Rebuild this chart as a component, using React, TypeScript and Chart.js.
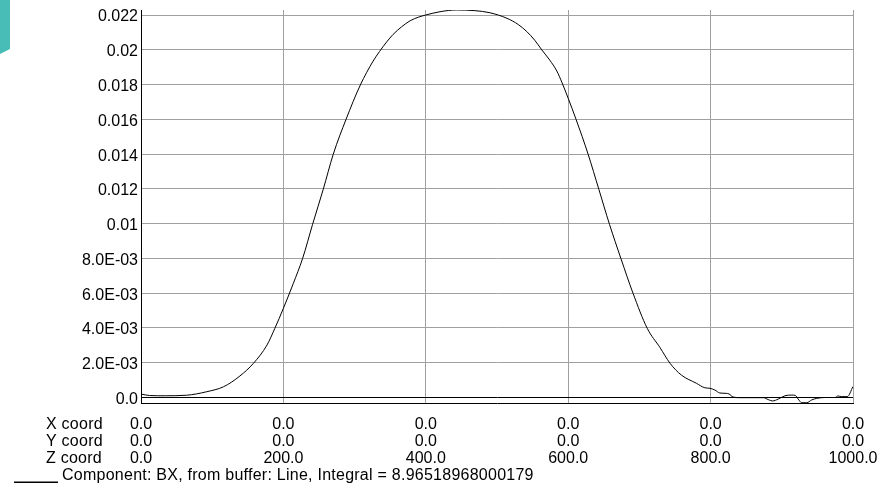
import React, { useEffect, useRef } from "react";
import { Chart, registerables } from "chart.js";

Chart.register(...registerables);

// Sampled curve (position along line, BX value)
const positions = [
  0, 12, 34, 64, 92, 116, 139, 158, 177, 188, 200, 214, 227, 241, 256, 270, 288, 308, 326,
  335, 345, 354, 366, 378, 390, 400, 420, 443, 469, 490, 514, 530, 542, 553, 563, 574, 584, 591,
  600, 611, 628, 643, 658, 674, 691, 711, 729, 743, 759, 780, 792, 799, 806, 813, 822, 826,
  831.5, 841, 874, 881, 887, 895, 904.5, 914, 919, 923, 928, 935, 942, 949, 961, 975, 979, 983.5,
  992, 1000,
];
const bxValues = [
  0.0002, 0.000115, 0.0001, 0.00013, 0.00033, 0.00062, 0.00124, 0.00197, 0.00302, 0.00398,
  0.00513, 0.00657, 0.008, 0.00996, 0.01198, 0.01399, 0.016, 0.01797, 0.01935,
  0.0199, 0.02045, 0.02088, 0.02132, 0.02167, 0.02188, 0.022, 0.02219, 0.02229, 0.02225,
  0.02213, 0.02181, 0.02145, 0.02104, 0.02055, 0.01999, 0.01941, 0.01878, 0.01814, 0.01721,
  0.016, 0.01399, 0.01198, 0.00996, 0.008, 0.006, 0.00398, 0.00287, 0.00197, 0.00129, 0.00082,
  0.00056, 0.00053, 0.00043, 0.00026, 0.00024, 0.0002, 0.00003, -0.00001, -0.00001, -0.00012,
  -0.0002, -0.00009, 0.0001, 0.00014, 0.00012, -0.00009, -0.0003, -0.0003, -0.00014, -0.00005,
  0, 0, 0.00009, 0.00005, 0.00005, 0.00063,
];

const yTickValues = [0, 0.002, 0.004, 0.006, 0.008, 0.01, 0.012, 0.014, 0.016, 0.018, 0.02, 0.022];
const yTickLabels = [
  "0.0", "2.0E-03", "4.0E-03", "6.0E-03", "8.0E-03", "0.01", "0.012", "0.014", "0.016", "0.018", "0.02", "0.022",
];
const xTickValues = [0, 200, 400, 600, 800, 1000];
const xCoordLabels = ["0.0", "0.0", "0.0", "0.0", "0.0", "0.0"];
const yCoordLabels = ["0.0", "0.0", "0.0", "0.0", "0.0", "0.0"];
const zCoordLabels = ["0.0", "200.0", "400.0", "600.0", "800.0", "1000.0"];
const rowHeaders = ["X coord", "Y coord", "Z coord"];
const legendText = "Component: BX, from buffer: Line, Integral = 8.96518968000179";

const FONT_FAMILY = '"Liberation Sans", Arial, sans-serif';
const LINE_H = 17;
const X_PAD = 13;

export default function App() {
  const canvasRef = useRef<HTMLCanvasElement | null>(null);

  useEffect(() => {
    const canvas = canvasRef.current;
    if (!canvas) return;

    const extras = {
      id: "extras",
      afterDraw(chart: any) {
        const ctx = chart.ctx;
        const xs = chart.scales.x;
        ctx.save();
        ctx.fillStyle = "#000";
        ctx.font = `16px ${FONT_FAMILY}`;
        ctx.textAlign = "left";
        ctx.textBaseline = "middle";
        try {
          (ctx as any).letterSpacing = "0.25px";
        } catch (e) {}
        rowHeaders.forEach((h, i) => {
          ctx.fillText(h, 46, xs.top + X_PAD + LINE_H * (i + 0.5));
        });
        const ly = xs.top + X_PAD + LINE_H * 3.5 + 0.5;
        ctx.fillRect(14, ly + 5.5, 44, 1.5);
        ctx.fillText(legendText, 62, ly);
        ctx.restore();
      },
    };

    const chart = new Chart(canvas, {
      type: "line",
      data: {
        datasets: [
          {
            data: positions.map((p, i) => ({ x: p, y: bxValues[i] })),
            borderColor: "#000",
            borderWidth: 1,
            pointRadius: 0,
            fill: false,
            cubicInterpolationMode: "monotone",
          },
        ],
      },
      options: {
        responsive: false,
        animation: false,
        events: [],
        layout: { padding: { left: 0, right: 30, top: 10, bottom: 0 } },
        plugins: { legend: { display: false }, tooltip: { enabled: false } },
        scales: {
          x: {
            type: "linear",
            min: 0,
            max: 1000,
            afterBuildTicks: (scale: any) => {
              scale.ticks = xTickValues.map((v) => ({ value: v }));
            },
            afterFit: (scale: any) => {
              scale.height = 80;
              scale.paddingLeft = 0;
              scale.paddingRight = 0;
            },
            grid: { color: "#a0a0a0", lineWidth: 1, drawTicks: false },
            border: { color: "#000", width: 1 },
            ticks: {
              maxRotation: 0,
              autoSkip: false,
              padding: X_PAD,
              color: "#000",
              font: { family: FONT_FAMILY, size: 16, lineHeight: LINE_H / 16 },
              callback: (_v: any, i: number) => [xCoordLabels[i], yCoordLabels[i], zCoordLabels[i]],
            },
          },
          y: {
            type: "linear",
            min: -0.000316,
            max: 0.022288,
            afterBuildTicks: (scale: any) => {
              scale.ticks = yTickValues.map((v) => ({ value: v }));
            },
            afterFit: (scale: any) => {
              scale.width = 141;
              scale.paddingTop = 0;
              scale.paddingBottom = 0;
            },
            grid: {
              color: (c: any) => (c.tick && c.tick.value === 0 ? "#000" : "#a0a0a0"),
              lineWidth: 1,
              drawTicks: false,
            },
            border: { color: "#000", width: 1 },
            ticks: {
              autoSkip: false,
              padding: 3,
              labelOffset: 2,
              color: "#000",
              font: { family: FONT_FAMILY, size: 16 },
              callback: (_v: any, i: number) => yTickLabels[i],
            },
          },
        },
      },
      plugins: [extras],
    } as any);

    return () => chart.destroy();
  }, []);

  return (
    <div style={{ position: "absolute", left: 0, top: 0, width: 883, height: 483, background: "#fff" }}>
      <div
        style={{
          position: "absolute",
          left: 0,
          top: 0,
          width: 10,
          height: 55,
          background: "#48bdb7",
          clipPath: "polygon(0 0, 10px 0, 10px 49px, 0 54px)",
        }}
      />
      <canvas ref={canvasRef} width={883} height={483} style={{ display: "block", width: 883, height: 483 }} />
    </div>
  );
}
